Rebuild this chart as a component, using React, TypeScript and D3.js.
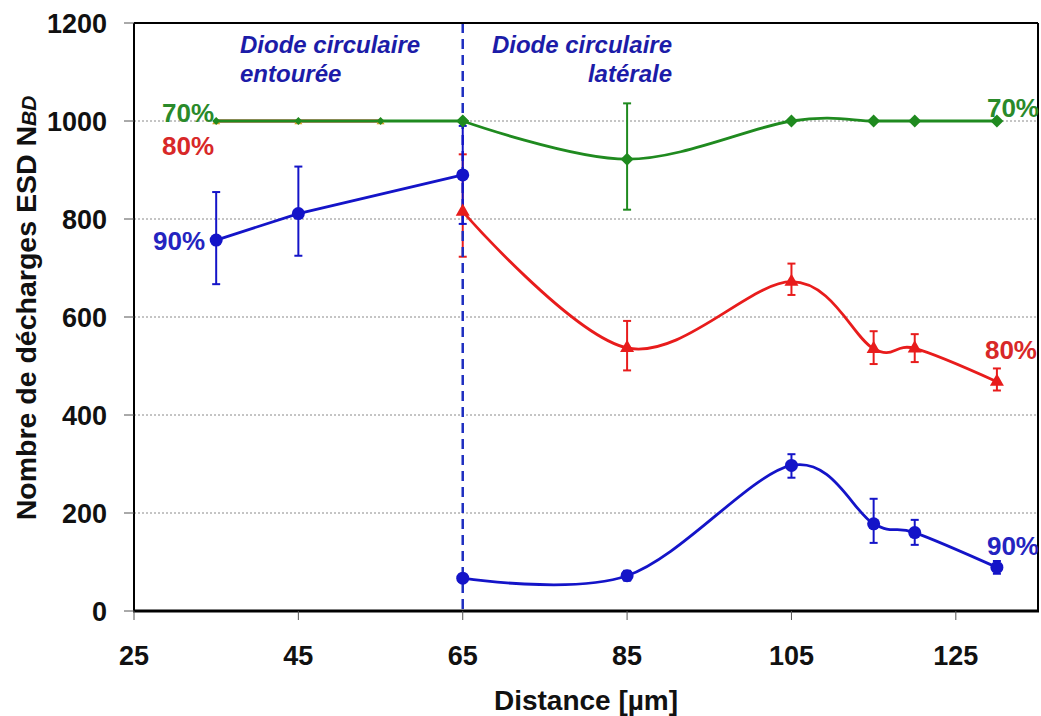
import React from "react";
import * as d3 from "d3";

// ---- data ----
const xTicks = [25, 45, 65, 85, 105, 125];
const yTicks = [0, 200, 400, 600, 800, 1000, 1200];
const gridValues = [200, 400, 600, 800, 1000];

// "Diode circulaire entourée" region (x < 65)
const entGreenX = [35, 45, 55, 65];
const entGreenY = [1000, 1000, 1000, 1000];
const entRedX = [35, 45, 55];
const entRedY = [1000, 1000, 1000];
const entBlueX = [35, 45, 65];
const entBlueY = [757, 811, 890];
const entBlueLow = [667, 725, 790];
const entBlueHigh = [855, 907, 990];

// "Diode circulaire latérale" region (x >= 65)
const latX = [65, 85, 105, 115, 120, 130];
const latGreenY = [1000, 922, 1000, 1000, 1000, 1000];
const latGreenLow = [null, 819, null, null, null, null];
const latGreenHigh = [null, 1036, null, null, null, null];
const latRedY = [815, 537, 672, 535, 536, 468];
const latRedLow = [723, 491, 645, 504, 508, 450];
const latRedHigh = [932, 592, 709, 571, 565, 495];
const latBlueY = [67, 72, 297, 178, 160, 89];
const latBlueLow = [null, 62, 272, 139, 135, 76];
const latBlueHigh = [null, 82, 320, 229, 186, 102];

const GREEN = "#1f8a1f";
const RED = "#e81c1c";
const BLUE = "#1414c8";
const FONT = "'Liberation Sans', Arial, sans-serif";

export default function App() {
  const W = 1041, H = 716;
  const x = d3.scaleLinear().domain([25, 135]).range([134, 1038]);
  const y = d3.scaleLinear().domain([0, 1200]).range([611, 23]);

  const smooth = d3
    .line<[number, number]>()
    .x((d) => x(d[0]))
    .y((d) => y(d[1]))
    .curve(d3.curveCardinal.tension(0));
  const straight = d3
    .line<[number, number]>()
    .x((d) => x(d[0]))
    .y((d) => y(d[1]));

  const zip = (xs: number[], ys: number[]) => xs.map((v, i) => [v, ys[i]] as [number, number]);

  const diamond = (size: number) => d3.symbol(d3.symbolSquare, (size * size) / 2)();
  const triangle = (w: number) => d3.symbol(d3.symbolTriangle, (Math.sqrt(3) / 4) * w * w)();
  const circle = (r: number) => d3.symbol(d3.symbolCircle, Math.PI * r * r)();

  const errBars = (xs: number[], lo: (number | null)[], hi: (number | null)[], color: string, key: string) =>
    xs.map((xv, i) => {
      const l = lo[i], h = hi[i];
      if (l == null || h == null) return null;
      const cx = x(xv);
      return (
        <g key={key + i} stroke={color} strokeWidth={2}>
          <line x1={cx} x2={cx} y1={y(l)} y2={y(h)} />
          <line x1={cx - 4} x2={cx + 4} y1={y(l)} y2={y(l)} />
          <line x1={cx - 4} x2={cx + 4} y1={y(h)} y2={y(h)} />
        </g>
      );
    });

  return (
    <svg width={W} height={H} style={{ position: "absolute", left: 0, top: 0, background: "#fff" }}>
      <rect x={0} y={0} width={W} height={H} fill="#fff" />
      {/* grid */}
      {gridValues.map((v) => (
        <line key={"g" + v} x1={x(25)} x2={x(135)} y1={y(v)} y2={y(v)} stroke="#8a8a8a" strokeWidth={1} strokeDasharray="2,2" />
      ))}

      {/* error bars (red, green) */}
      {errBars(latX, latRedLow, latRedHigh, RED, "re")}
      {errBars(latX, latGreenLow, latGreenHigh, GREEN, "ge")}

      {/* separation dashed line */}
      <line x1={x(65)} x2={x(65)} y1={y(1200)} y2={y(0)} stroke="#1e2ec0" strokeWidth={2.5} strokeDasharray="10,6" />

      {errBars(entBlueX, entBlueLow, entBlueHigh, BLUE, "bee")}
      {errBars(latX, latBlueLow, latBlueHigh, BLUE, "ble")}

      {/* lines */}
      <path d={straight(zip(entRedX, entRedY)) || ""} fill="none" stroke={RED} strokeWidth={2.8} />
      <path d={straight(zip(entGreenX, entGreenY)) || ""} fill="none" stroke={GREEN} strokeWidth={2.8} />
      <path d={straight(zip(entBlueX, entBlueY)) || ""} fill="none" stroke={BLUE} strokeWidth={2.8} />
      <path d={smooth(zip(latX, latRedY)) || ""} fill="none" stroke={RED} strokeWidth={2.8} />
      <path d={smooth(zip(latX, latGreenY)) || ""} fill="none" stroke={GREEN} strokeWidth={2.8} />
      <path d={smooth(zip(latX, latBlueY)) || ""} fill="none" stroke={BLUE} strokeWidth={2.8} />

      {/* markers */}
      {entRedX.map((v, i) => (
        <path key={"erm" + i} d={triangle(8) || ""} transform={`translate(${x(v)},${y(entRedY[i]) + 1})`} fill="#d8a020" />
      ))}
      {entGreenX.map((v, i) => (
        <path key={"egm" + i} d={diamond(i === 3 ? 12 : 8) || ""} transform={`translate(${x(v)},${y(entGreenY[i])}) rotate(45)`} fill={GREEN} />
      ))}
      {entBlueX.map((v, i) => (
        <path key={"ebm" + i} d={circle(6.5) || ""} transform={`translate(${x(v)},${y(entBlueY[i])})`} fill={BLUE} />
      ))}
      {latX.map((v, i) => (
        <path key={"lgm" + i} d={diamond(13) || ""} transform={`translate(${x(v)},${y(latGreenY[i])}) rotate(45)`} fill={GREEN} />
      ))}
      {latX.map((v, i) => (
        <path key={"lrm" + i} d={triangle(14) || ""} transform={`translate(${x(v)},${y(latRedY[i])})`} fill={RED} />
      ))}
      {latX.map((v, i) => (
        <path key={"lbm" + i} d={circle(6.5) || ""} transform={`translate(${x(v)},${y(latBlueY[i])})`} fill={BLUE} />
      ))}

      {/* frame */}
      <line x1={x(25)} x2={x(135)} y1={y(1200)} y2={y(1200)} stroke="#000" strokeWidth={2} />
      <line x1={x(135)} x2={x(135)} y1={y(1200)} y2={y(0)} stroke="#000" strokeWidth={2} />
      <line x1={x(25)} x2={x(25)} y1={y(1200)} y2={y(0)} stroke="#000" strokeWidth={2} />
      <line x1={x(25) - 1} x2={x(135) + 1} y1={y(0)} y2={y(0)} stroke="#000" strokeWidth={3} />

      {/* y axis ticks */}
      {yTicks.map((v) => (
        <g key={"yt" + v}>
          <line x1={x(25) - 10} x2={x(25)} y1={y(v)} y2={y(v)} stroke="#555" strokeWidth={1} />
          <text x={107} y={y(v)} dy="0.36em" textAnchor="end" fontFamily={FONT} fontWeight="bold" fontSize={27} fill="#111">
            {v}
          </text>
        </g>
      ))}
      {/* x axis ticks */}
      {xTicks.map((v) => (
        <g key={"xt" + v}>
          <line x1={x(v)} x2={x(v)} y1={y(0)} y2={y(0) + 9} stroke="#555" strokeWidth={1} />
          <text x={x(v)} y={665} textAnchor="middle" fontFamily={FONT} fontWeight="bold" fontSize={27} fill="#111">
            {v}
          </text>
        </g>
      ))}

      {/* axis titles */}
      <text x={586} y={710} textAnchor="middle" fontFamily={FONT} fontWeight="bold" fontSize={28} fill="#111">
        Distance [µm]
      </text>
      <text transform="translate(36,308) rotate(-90)" textAnchor="middle" fontFamily={FONT} fontWeight="bold" fontSize={28.5} fill="#111">
        Nombre de décharges ESD N<tspan fontStyle="italic" fontSize={21}>BD</tspan>
      </text>

      {/* region annotations */}
      <g fontFamily={FONT} fontWeight="bold" fontStyle="italic" fontSize={24} fill="#1c1ca8">
        <text x={240} y={53}>Diode circulaire</text>
        <text x={240} y={82}>entourée</text>
        <text x={672} y={53} textAnchor="end">Diode circulaire</text>
        <text x={672} y={82} textAnchor="end">latérale</text>
      </g>

      {/* series labels */}
      <g fontFamily={FONT} fontSize={26} fontWeight="bold">
        <text x={162} y={122} fill="#2a8a2a">70%</text>
        <text x={162} y={155} fill="#d82828">80%</text>
        <text x={153} y={250} fill="#2424c0">90%</text>
        <text x={1039} y={117} textAnchor="end" fill="#2a8a2a">70%</text>
        <text x={1037} y={359} textAnchor="end" fill="#d82828">80%</text>
        <text x={1039} y={555} textAnchor="end" fill="#2424c0">90%</text>
      </g>
    </svg>
  );
}
